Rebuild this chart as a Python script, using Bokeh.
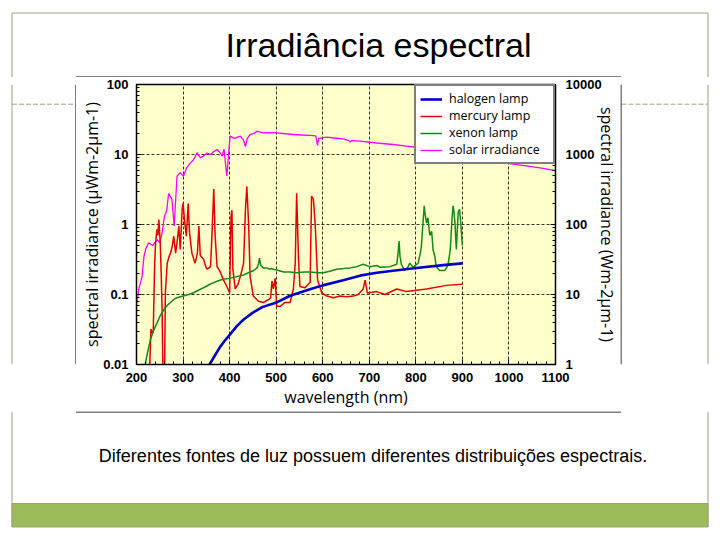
from bokeh.plotting import figure
from bokeh.layouts import column, row
from bokeh.models import (Range1d, LogScale, LogAxis, LogTicker, SingleIntervalTicker,
                          NumeralTickFormatter, Legend, LegendItem, Label)
from bokeh.embed import file_html
from bokeh.resources import INLINE

# ---------------- data ----------------
title_text = "Irradiância espectral"
caption_text = "Diferentes fontes de luz possuem diferentes distribuições espectrais."
x_label = "wavelength (nm)"
y_left_label = "spectral irradiance (µWm-2µm-1)"
y_right_label = "spectral irradiance (Wm-2µm-1)"
series_names = ["halogen lamp", "mercury lamp", "xenon lamp", "solar irradiance"]

halogen_nm = [350, 357, 370, 380, 390, 401, 415, 430, 450, 470, 499, 530, 571, 600, 644,
              680, 716, 751, 801, 859, 900]
halogen_val = [0.008, 0.01, 0.014, 0.018, 0.022, 0.027, 0.035, 0.044, 0.055, 0.066, 0.076,
               0.096, 0.118, 0.135, 0.160, 0.186, 0.204, 0.219, 0.239, 0.263, 0.278]

mercury_nm = [226, 229, 231, 234, 236, 239, 241, 244, 246, 248, 251, 253, 255, 257, 260, 262,
              266, 270, 273, 277, 280, 284, 287, 291, 294, 298, 300, 303, 307, 311, 314, 319,
              323, 326, 331, 334, 337, 344, 348, 351, 356, 359, 362, 366, 369, 373, 380, 387,
              394, 400, 403, 405, 407, 412, 418, 423, 430, 434, 437, 441, 444, 451, 462, 473,
              484, 488, 491, 494, 498, 501, 509, 519, 530, 537, 541, 544, 548, 551, 562, 573,
              576, 580, 584, 589, 598, 609, 623, 637, 651, 666, 676, 687, 691, 696, 716, 734,
              759, 780, 823, 866, 900]
mercury_val = [0.005, 0.012, 0.032, 0.028, 0.03, 0.28, 0.55, 0.85, 0.7, 1.18, 0.55, 0.2,
               0.061, 0.005, 0.005, 0.106, 0.28, 0.35, 0.39, 0.5, 0.68, 0.39, 0.55, 0.95, 0.44,
               1.64, 2.0, 1.18, 0.68, 2.0, 0.76, 0.39, 0.32, 0.28, 0.4, 0.95, 0.36, 0.32, 0.26,
               0.23, 0.24, 0.25, 0.68, 3.2, 0.68, 0.25, 0.21, 0.16, 0.13, 0.106, 1.3, 1.6, 0.23,
               0.12, 0.14, 0.18, 0.28, 1.64, 3.5, 0.95, 0.18, 0.095, 0.08, 0.077, 0.085, 0.09,
               0.155, 0.12, 0.17, 0.068, 0.068, 0.077, 0.077, 0.12, 0.28, 2.8, 0.32, 0.13,
               0.125, 0.15, 2.54, 2.3, 0.95, 0.16, 0.105, 0.095, 0.09, 0.095, 0.093, 0.095, 0.1,
               0.12, 0.16, 0.105, 0.11, 0.1, 0.12, 0.11, 0.12, 0.135, 0.14]

xenon_nm = [216, 222, 230, 237, 244, 251, 259, 266, 273, 280, 287, 300, 312, 323, 333, 344,
            358, 373, 386, 400, 415, 430, 444, 452, 459, 462, 464, 467, 472, 480, 485, 490,
            494, 505, 516, 530, 544, 560, 573, 590, 601, 615, 630, 645, 659, 673, 687, 701,
            716, 723, 744, 759, 762, 764, 766, 769, 776, 782, 787, 794, 805, 810, 812, 816,
            818, 820, 823, 826, 830, 834, 837, 841, 844, 851, 862, 869, 874, 878, 880, 882,
            884, 887, 891, 894, 898, 900]
xenon_val = [0.008, 0.013, 0.0228, 0.031, 0.039, 0.05, 0.061, 0.07, 0.077, 0.085, 0.09, 0.095,
             0.1, 0.106, 0.115, 0.125, 0.14, 0.155, 0.165, 0.17, 0.18, 0.19, 0.21, 0.22, 0.24,
             0.27, 0.33, 0.26, 0.24, 0.24, 0.23, 0.235, 0.23, 0.22, 0.21, 0.21, 0.205, 0.21,
             0.21, 0.205, 0.205, 0.215, 0.23, 0.235, 0.24, 0.25, 0.27, 0.25, 0.26, 0.245, 0.25,
             0.27, 0.4, 0.58, 0.35, 0.27, 0.22, 0.24, 0.28, 0.245, 0.28, 0.4, 0.5, 1.2, 1.85,
             1.4, 1.05, 1.25, 0.7, 0.8, 0.44, 0.34, 0.25, 0.22, 0.22, 0.26, 0.44, 1.3, 1.85,
             1.5, 1.05, 0.44, 1.5, 1.65, 0.77, 0.5]

solar_nm = [200, 205, 212, 216, 220, 226, 235, 244, 250, 255, 260, 265, 269, 276, 281, 287,
            294, 301, 308, 316, 323, 330, 337, 344, 351, 359, 366, 373, 380, 384, 388, 391,
            394, 398, 401, 410, 423, 430, 434, 438, 444, 452, 459, 473, 487, 501, 520, 537,
            555, 573, 585, 589, 591, 609, 625, 644, 656, 659, 662, 680, 716, 751, 780, 801,
            823, 844, 855, 860, 862, 866, 868, 894, 930, 966, 1001, 1037, 1070, 1100]
solar_val = [0.068, 0.12, 0.18, 0.35, 0.45, 0.55, 0.5, 0.61, 0.55, 0.76, 1.3, 1.6, 2.8, 2.3,
             0.95, 4.9, 5.5, 4.9, 6.5, 7.6, 8.5, 10.6, 9.0, 9.5, 10.5, 10.0, 11.0, 11.8, 10.5,
             9.5, 12.0, 7.6, 4.9, 10.6, 18.3, 17.0, 18.3, 16.0, 13.0, 17.0, 19.3, 20.0, 21.4,
             20.4, 20.5, 20.4, 19.8, 19.3, 19.0, 18.7, 18.5, 13.5, 17.0, 17.7, 17.2, 16.7, 15.8,
             15.0, 15.8, 15.5, 14.6, 13.9, 13.2, 12.7, 11.7, 10.9, 10.5, 8.4, 10.2, 8.6, 10.0,
             9.6, 8.6, 7.9, 7.4, 6.9, 6.4, 5.9]

x_start, x_end = 200, 1100
y_left_start, y_left_end = 0.01, 100
y_right_start, y_right_end = 1, 10000

# ---------------- styles ----------------
SLIDE = "#A09F7E"
GREEN = "#9BBB59"
colors = {"halogen lamp": "#0000CC", "mercury lamp": "#E60000",
          "xenon lamp": "#138A13", "solar irradiance": "#FF00FF"}
widths = {"halogen lamp": 2.6, "mercury lamp": 1.5, "xenon lamp": 1.5, "solar irradiance": 1.3}

W, H = 712, 532
TOP_H, MID_H = 77, 334
L_W, C_W = 76, 544
R_W = W - L_W - C_W
BOT_H = H - TOP_H - MID_H
XL, XR = 11.5, 707.5          # slide border columns


def pane(w, h):
    f = figure(width=w, height=h, x_range=Range1d(0, w), y_range=Range1d(h, 0),
               output_backend="svg", toolbar_location=None, min_border=0,
               x_axis_type=None, y_axis_type=None, outline_line_color=None,
               background_fill_color="white", border_fill_color="white")
    return f


# ---- top pane: slide border + title ----
T = pane(W, TOP_H)
T.segment(x0=[XL, XL, XR], y0=[12.5, 12.5, 12.5], x1=[XR, XL, XR], y1=[12.5, TOP_H, TOP_H],
          line_color=SLIDE, line_width=1)
T.segment(x0=[L_W - 0.5], y0=[TOP_H - 0.5], x1=[L_W + C_W + 0.5], y1=[TOP_H - 0.5],
          line_color="black", line_width=1)
T.add_layout(Label(x=378, y=44, text=title_text, text_align="center", text_baseline="middle",
                   text_font="Liberation Sans", text_font_size="34px", text_color="black"))

# ---- left / right panes ----
L = pane(L_W, MID_H)
L.segment(x0=[XL], y0=[0], x1=[XL], y1=[MID_H], line_color=SLIDE, line_width=1)
L.segment(x0=[XL], y0=[23.5], x1=[L_W - 1], y1=[23.5], line_color=SLIDE, line_width=1,
          line_dash="5 2")
L.segment(x0=[L_W - 0.5], y0=[0], x1=[L_W - 0.5], y1=[MID_H], line_color="black", line_width=1)

R = pane(R_W, MID_H)
xr_local = XR - L_W - C_W
R.segment(x0=[xr_local], y0=[0], x1=[xr_local], y1=[MID_H], line_color=SLIDE, line_width=1)
R.segment(x0=[1], y0=[23.5], x1=[xr_local], y1=[23.5], line_color=SLIDE, line_width=1,
          line_dash="5 2")
R.segment(x0=[0.5], y0=[0], x1=[0.5], y1=[MID_H], line_color="black", line_width=1)

# ---- bottom pane: caption + green bar ----
B = pane(W, BOT_H)
B.segment(x0=[XL, XR], y0=[0, 0], x1=[XL, XR], y1=[115.5, 115.5], line_color=SLIDE, line_width=1)
B.segment(x0=[L_W - 0.5], y0=[0.5], x1=[L_W + C_W + 0.5], y1=[0.5], line_color="black", line_width=1)
B.quad(left=[XL], right=[XR], top=[92], bottom=[115.5], fill_color=GREEN, line_color=SLIDE,
       line_width=1)
B.add_layout(Label(x=372.5, y=44, text=caption_text, text_align="center", text_baseline="middle",
                   text_font="Liberation Sans", text_font_size="18px", text_color="black"))

# ---- chart ----
C = figure(width=C_W, height=MID_H, x_range=Range1d(x_start, x_end),
           y_range=Range1d(y_left_start, y_left_end), y_axis_type="log",
           output_backend="svg", toolbar_location=None,
           min_border_left=60, min_border_right=65, min_border_top=7, min_border_bottom=47,
           background_fill_color="#FFFFCC", border_fill_color="white",
           outline_line_color="black", outline_line_width=1.5)
C.extra_y_ranges = {"right": Range1d(y_right_start, y_right_end)}
C.extra_y_scales = {"right": LogScale()}
right_axis = LogAxis(y_range_name="right", axis_label=y_right_label)
C.add_layout(right_axis, "right")

C.xaxis.ticker = SingleIntervalTicker(interval=100, num_minor_ticks=5)
C.yaxis[0].ticker = LogTicker(num_minor_ticks=10)
right_axis.ticker = LogTicker(num_minor_ticks=10)
C.yaxis.formatter = NumeralTickFormatter(format="0.[00]")
C.xaxis.axis_label = x_label
C.yaxis[0].axis_label = y_left_label

for ax in C.axis:
    ax.major_label_text_font = "Liberation Sans"
    ax.major_label_text_font_style = "bold"
    ax.major_label_text_font_size = "13px"
    ax.major_label_text_color = "black"
    ax.axis_label_text_font = "Open Sans"
    ax.axis_label_text_font_style = "normal"
    ax.axis_label_text_font_size = "16px"
    ax.axis_label_text_color = "black"
    ax.major_tick_in = 5
    ax.major_tick_out = 0
    ax.minor_tick_in = 3
    ax.minor_tick_out = 0
    ax.major_tick_line_color = "black"
    ax.minor_tick_line_color = "black"
    ax.axis_line_color = "black"
    ax.major_label_standoff = 8

C.xaxis.axis_label_standoff = 1
C.yaxis[0].axis_label_standoff = -3
right_axis.major_label_standoff = 10
right_axis.axis_label_standoff = -9

for g in (C.xgrid, C.ygrid):
    g.grid_line_color = "black"
    g.grid_line_dash = "3 2"
    g.grid_line_width = 0.8

r_solar = C.line(solar_nm, solar_val, line_color=colors["solar irradiance"],
                 line_width=widths["solar irradiance"])
r_merc = C.line(mercury_nm, mercury_val, line_color=colors["mercury lamp"],
                line_width=widths["mercury lamp"])
r_xen = C.line(xenon_nm, xenon_val, line_color=colors["xenon lamp"],
               line_width=widths["xenon lamp"])
r_hal = C.line(halogen_nm, halogen_val, line_color=colors["halogen lamp"],
               line_width=widths["halogen lamp"])

renderers = {"halogen lamp": r_hal, "mercury lamp": r_merc, "xenon lamp": r_xen,
             "solar irradiance": r_solar}
legend = Legend(items=[LegendItem(label=n, renderers=[renderers[n]]) for n in series_names],
                location="top_right", margin=0, padding=4, spacing=0,
                border_line_color="black", border_line_width=2.5,
                background_fill_color="white", background_fill_alpha=1,
                label_text_font="Open Sans", label_text_font_size="12.5px",
                label_text_color="black", glyph_width=22, glyph_height=10,
                label_height=10, label_standoff=7, label_width=100)
C.add_layout(legend)

layout = column(T, row(L, C, R), B)

open("out.html", "w").write(file_html(layout, INLINE))
